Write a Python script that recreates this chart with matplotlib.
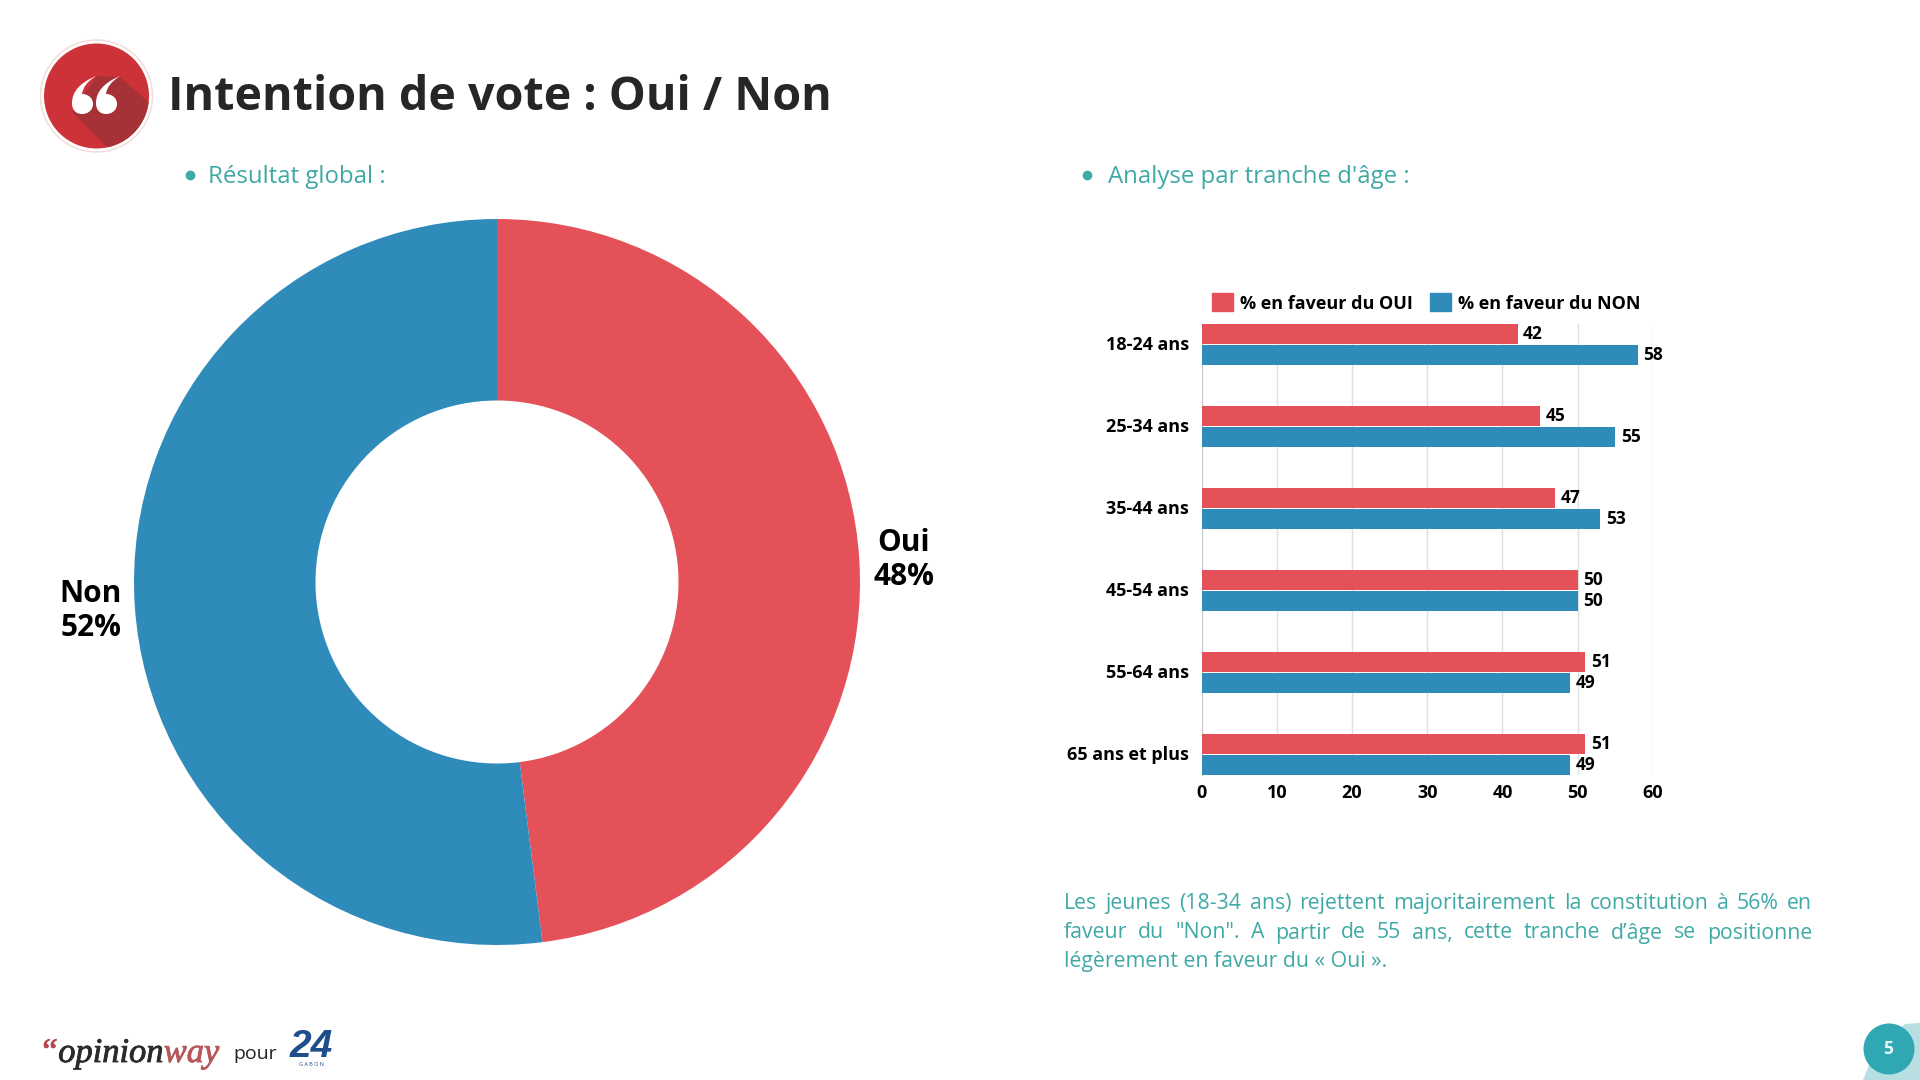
# Intention de vote : donut + barres par age

import matplotlib
matplotlib.use("Agg")
import matplotlib.pyplot as plt
import matplotlib.patheffects as pe
from matplotlib.patches import Circle, Polygon, PathPatch, Patch
from matplotlib.path import Path
from matplotlib.transforms import ScaledTranslation

plt.rcParams["font.family"] = ["Open Sans", "DejaVu Sans"]

# donnees
global_labels = ["Oui", "Non"]
global_values = [48, 52]

age_labels = ["18-24 ans", "25-34 ans", "35-44 ans", "45-54 ans", "55-64 ans", "65 ans et plus"]
oui_values = [42, 45, 47, 50, 51, 51]
non_values = [58, 55, 53, 50, 49, 49]
x_ticks = [0, 10, 20, 30, 40, 50, 60]

title = "Intention de vote : Oui / Non"
left_heading = "Résultat global :"
right_heading = "Analyse par tranche d'âge :"
para_lines = [
    'Les jeunes (18-34 ans) rejettent majoritairement la constitution à 56% en',
    'faveur du "Non". A partir de 55 ans, cette tranche d’âge se positionne',
    'légèrement en faveur du « Oui ».',
]

RED = "#E55159"
BLUE = "#2E8BBA"
TEAL = "#3FA9A6"
W, H = 1920, 1080


def px_axes(left, top, right, bottom):
    return fig.add_axes([left / W, 1 - bottom / H, (right - left) / W, (bottom - top) / H])


fig = plt.figure(figsize=(19.2, 10.8), dpi=100, facecolor="white")

# calque en pixels pour le decor
ov = fig.add_axes([0, 0, 1, 1], zorder=5)
ov.set_xlim(0, W)
ov.set_ylim(H, 0)
ov.axis("off")
renderer = fig.canvas.get_renderer()


def run_text(x, y, parts, **kw):
    # texte multicolore, mis bout a bout
    for s, c in parts:
        t = ov.text(x, y, s, color=c, va="baseline", **kw)
        t.set_path_effects([pe.withStroke(linewidth=0.6, foreground=c)])
        x += t.get_window_extent(renderer).width
    return x


# donut
ax = px_axes(497 - 363, 582 - 363, 497 + 363, 582 + 363)
ax.pie(global_values, colors=[RED, BLUE], startangle=90, counterclock=False,
       radius=1, wedgeprops=dict(width=0.5, edgecolor="none"))
ax.set_xlim(-1, 1)
ax.set_ylim(-1, 1)
ov.text(904, 560, f"{global_labels[0]}\n{global_values[0]}%", ha="center", va="center",
        fontsize=21.5, fontweight="bold", color="black", linespacing=1.2)
ov.text(91, 611, f"{global_labels[1]}\n{global_values[1]}%", ha="center", va="center",
        fontsize=21.5, fontweight="bold", color="black", linespacing=1.2)

# barres
bx = px_axes(1201.5, 324, 1653, 775)
ypos = list(range(len(age_labels)))
bar_h = 0.243
b1 = bx.barh([y - 0.125 for y in ypos], oui_values, height=bar_h, color=RED, zorder=3)
b2 = bx.barh([y + 0.125 for y in ypos], non_values, height=bar_h, color=BLUE, zorder=3)
bx.bar_label(b1, padding=4, fontsize=12.5, fontweight="bold", color="black")
bx.bar_label(b2, padding=4, fontsize=12.5, fontweight="bold", color="black")
bx.set_xlim(0, 60)
bx.set_ylim(5.25, -0.25)
bx.set_xticks(x_ticks)
bx.set_yticks(ypos)
bx.set_yticklabels(age_labels)
bx.tick_params(axis="both", length=0, labelsize=13)
bx.tick_params(axis="y", pad=9)
bx.tick_params(axis="x", pad=6.5)
for lab in bx.get_xticklabels() + bx.get_yticklabels():
    lab.set_fontweight("bold")
for lab in bx.get_yticklabels():
    lab.set_transform(lab.get_transform() + ScaledTranslation(0, 2 / 100, fig.dpi_scale_trans))
bx.grid(axis="x", color="#E0E0E0", linewidth=1, zorder=0)
bx.set_axisbelow(True)
for side in ["top", "right", "bottom"]:
    bx.spines[side].set_visible(False)
bx.spines["left"].set_color("#CCCCCC")

handles = [Patch(color=RED, label="% en faveur du OUI"), Patch(color=BLUE, label="% en faveur du NON")]
fig.legend(handles=handles, ncol=2, loc="center left", bbox_to_anchor=(1212 / W, 1 - 303 / H),
           frameon=False, handlelength=1.15, handleheight=1.15, handletextpad=0.4,
           columnspacing=0.95, borderpad=0, borderaxespad=0,
           prop=dict(size=13, weight="bold"))

# titre et intertitres
ov.text(168, 98, title, fontsize=33.6, fontweight="bold", color="#262626", va="center")
ov.plot([190, 1087], [175, 175], linestyle="none", marker="o", markersize=6, color=TEAL)
ov.text(208.5, 177, left_heading, fontsize=17.3, color=TEAL, va="center")
ov.text(1108.5, 177, right_heading, fontsize=17.3, color=TEAL, va="center")

# paragraphe justifie
para_left, para_right = 1064, 1812
para_y = [903.5, 933, 962]
for i, line in enumerate(para_lines):
    words = line.split(" ")
    if i == len(para_lines) - 1:
        ov.text(para_left, para_y[i], line, fontsize=15.3, color=TEAL, va="center")
        continue
    items = [ov.text(0, para_y[i], w, fontsize=15.3, color=TEAL, va="center") for w in words]
    widths = [t.get_window_extent(renderer).width for t in items]
    gap = (para_right - para_left - sum(widths)) / (len(words) - 1)
    x = para_left
    for t, wd in zip(items, widths):
        t.set_x(x)
        x += wd + gap

# logo guillemets
ov.add_patch(Circle((96.5, 96), 56, facecolor="white", edgecolor="#F3DADA", linewidth=1))
disc = Circle((96.5, 96), 52.5, facecolor="#CE3239", edgecolor="none")
ov.add_patch(disc)
shadow = Polygon([(97, 76), (120, 77), (160, 112), (125, 165), (72, 112)],
                 facecolor="#A63238", edgecolor="none")
ov.add_patch(shadow)
shadow.set_clip_path(disc)
for dx in [0, 24]:
    verts = [(96 + dx, 76), (72 + dx, 86), (72 + dx, 103),
             (72 + dx, 110), (76 + dx, 114), (82 + dx, 114),
             (88 + dx, 114), (93 + dx, 110), (93 + dx, 104),
             (93 + dx, 98), (88 + dx, 94), (82 + dx, 94),
             (83 + dx, 84), (96 + dx, 76)]
    codes = [Path.MOVETO, Path.CURVE3, Path.CURVE3,
             Path.CURVE4, Path.CURVE4, Path.CURVE4,
             Path.CURVE4, Path.CURVE4, Path.CURVE4,
             Path.CURVE4, Path.CURVE4, Path.CURVE4,
             Path.CURVE3, Path.CURVE3]
    ov.add_patch(PathPatch(Path(verts, codes), facecolor="white", edgecolor="none"))

# pied de page
run_text(39, 1062, [("“", "#B5474B"), ("opinion", "#2B2B2B"), ("way", "#B5575B")],
         family="Liberation Serif", style="italic", fontsize=24.8)
ov.text(233, 1054, "pour", fontsize=14, color="#222222", va="center")
ov.text(311, 1047, "24", fontsize=28, fontweight="bold", style="italic", color="#1F4E8C",
        ha="center", va="center", family="Liberation Sans")
ov.text(311, 1065, "G A B O N", fontsize=4, color="#1F4E8C", ha="center", va="center")

# numero de page
ov.add_patch(Polygon([(1863, 1080), (1875, 1050), (1905, 1024), (1920, 1023), (1920, 1080)],
                     facecolor="#B7DFE1", edgecolor="none"))
ov.add_patch(Circle((1889, 1049), 25.5, facecolor="#2FA8B4", edgecolor="none"))
ov.text(1888.5, 1049, "5", fontsize=12.5, fontweight="bold", color="#E8F7F8", ha="center", va="center")

fig.savefig("out.png", dpi=100)
